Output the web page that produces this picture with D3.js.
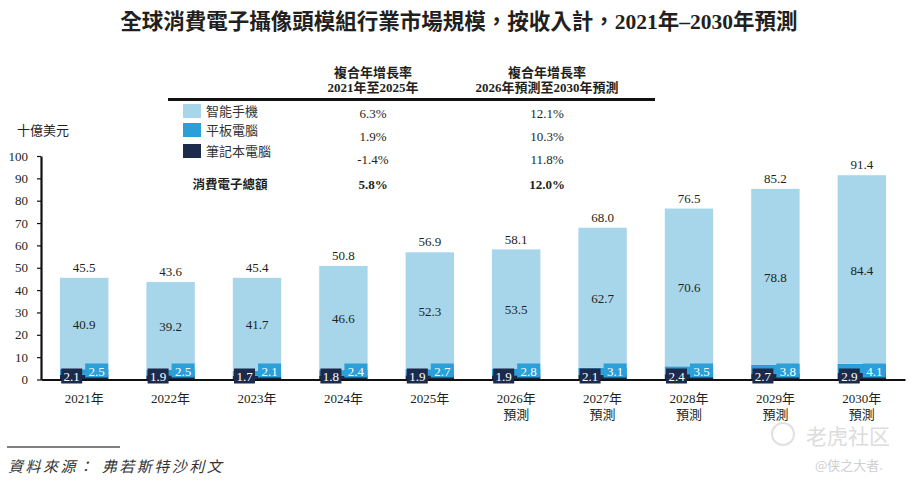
<!DOCTYPE html>
<html>
<head>
<meta charset="utf-8">
<script src="https://cdn.jsdelivr.net/npm/d3@7"></script>
<style>
    body { margin: 0; background: #fff; }
    svg text { font-family: "Liberation Serif", "Noto Sans CJK TC", serif; fill: #231f20; }
</style>
</head>
<body>
<div id="chart"></div>
<script>
/*
    Chart data
*/
var years = ["2021年", "2022年", "2023年", "2024年", "2025年", "2026年", "2027年", "2028年", "2029年", "2030年"];
var isForecast = [false, false, false, false, false, true, true, true, true, true];
var laptop = [2.1, 1.9, 1.7, 1.8, 1.9, 1.9, 2.1, 2.4, 2.7, 2.9];
var tablet = [2.5, 2.5, 2.1, 2.4, 2.7, 2.8, 3.1, 3.5, 3.8, 4.1];
var smartphone = [40.9, 39.2, 41.7, 46.6, 52.3, 53.5, 62.7, 70.6, 78.8, 84.4];
var totals = [45.5, 43.6, 45.4, 50.8, 56.9, 58.1, 68.0, 76.5, 85.2, 91.4];
var yTicks = [0, 10, 20, 30, 40, 50, 60, 70, 80, 90, 100];

var seriesNames = ["智能手機", "平板電腦", "筆記本電腦"];
var seriesColors = ["#a7d5ea", "#2b9fd8", "#1c2b4b"];
var cagr2125 = ["6.3%", "1.9%", "-1.4%"];
var cagr2630 = ["12.1%", "10.3%", "11.8%"];
var totalName = "消費電子總額";
var totalCagr = ["5.8%", "12.0%"];
var colHeads = [["複合年增長率", "2021年至2025年"], ["複合年增長率", "2026年預測至2030年預測"]];

var W = 915, H = 485;
var svg = d3.select("#chart").append("svg")
    .attr("width", W)
    .attr("height", H);

/*
    Title
*/
svg.append("text")
    .attr("x", 459).attr("y", 29)
    .attr("text-anchor", "middle")
    .style("font-size", "21.5px")
    .style("font-weight", "bold")
    .text("全球消費電子攝像頭模組行業市場規模，按收入計，2021年–2030年預測");

/*
    Scales
*/
var x = d3.scaleBand()
    .domain(years)
    .range([41, 905])
    .paddingInner(0.44)
    .paddingOuter(0.22);

var y = d3.scaleLinear()
    .domain([0, 100])
    .range([379.5, 156]);

/*
    Stack laptop -> tablet -> smartphone from the baseline up
*/
var rows = years.map(function (d, i) {
    return { year: d, laptop: laptop[i], tablet: tablet[i], smartphone: smartphone[i] };
});
var stack = d3.stack().keys(["laptop", "tablet", "smartphone"]);
var stacked = stack(rows);
var keyColor = { smartphone: seriesColors[0], tablet: seriesColors[1], laptop: seriesColors[2] };

svg.append("g")
    .selectAll("g")
    .data(stacked)
    .enter()
    .append("g")
    .attr("fill", function (s) { return keyColor[s.key]; })
    .selectAll("rect")
    .data(function (s) { return s; })
    .enter()
    .append("rect")
    .attr("x", function (d) { return x(d.data.year); })
    .attr("width", x.bandwidth())
    .attr("y", function (d) { return y(d[1]); })
    .attr("height", function (d) { return y(d[0]) - y(d[1]); });

/*
    Axes
*/
var yAxis = d3.axisLeft(y)
    .tickValues(yTicks)
    .tickSizeInner(4)
    .tickSizeOuter(0)
    .tickPadding(9);

var gy = svg.append("g")
    .attr("transform", "translate(41,0)")
    .call(yAxis);
gy.select(".domain").attr("stroke", "#111").attr("stroke-width", 2.2);
gy.selectAll(".tick line").attr("stroke", "#111").attr("stroke-width", 1.2);
gy.selectAll(".tick text")
    .style("font-size", "13px")
    .style("font-family", "Liberation Serif")
    .attr("fill", "#231f20");

var xAxis = d3.axisBottom(x).tickSize(0).tickSizeOuter(0);
var gx = svg.append("g")
    .attr("transform", "translate(0," + y(0) + ")")
    .call(xAxis);
gx.select(".domain").attr("stroke", "#111").attr("stroke-width", 2.2);
gx.selectAll(".tick text").remove();
gx.selectAll(".tick").each(function (d, i) {
    var t = d3.select(this).append("text")
        .attr("text-anchor", "middle")
        .style("font-size", "13px")
        .attr("fill", "#231f20");
    t.append("tspan").attr("x", 0).attr("y", 23).text(d);
    if (isForecast[i]) {
        t.append("tspan").attr("x", 0).attr("y", 39).text("預測");
    }
});

svg.append("text")
    .attr("x", 17).attr("y", 135)
    .style("font-size", "13px")
    .text("十億美元");

/*
    Value labels: totals above bars, smartphone inside
*/
svg.append("g")
    .selectAll("text")
    .data(years)
    .enter()
    .append("text")
    .attr("x", function (d) { return x(d) + x.bandwidth() / 2; })
    .attr("y", function (d, i) { return y(totals[i]) - 6; })
    .attr("text-anchor", "middle")
    .style("font-size", "13px")
    .text(function (d, i) { return totals[i].toFixed(1); });

svg.append("g")
    .selectAll("text")
    .data(stacked[2])
    .enter()
    .append("text")
    .attr("x", function (d) { return x(d.data.year) + x.bandwidth() / 2; })
    .attr("y", function (d) { return (y(d[0]) + y(d[1])) / 2 + 5; })
    .attr("text-anchor", "middle")
    .style("font-size", "13px")
    .text(function (d) { return d.data.smartphone.toFixed(1); });

/*
    Small boxed labels for laptop / tablet at the foot of each bar
*/
var foot = svg.append("g")
    .selectAll("g")
    .data(years)
    .enter()
    .append("g")
    .attr("transform", function (d) { return "translate(" + (x(d) + x.bandwidth() / 2) + "," + y(0) + ")"; });

foot.append("rect")
    .attr("x", -23).attr("y", -11)
    .attr("width", 21).attr("height", 15)
    .attr("fill", seriesColors[2]);
foot.append("text")
    .attr("x", -12.5).attr("y", 1.5)
    .attr("text-anchor", "middle")
    .style("font-size", "13px")
    .style("fill", "#fff")
    .text(function (d, i) { return laptop[i].toFixed(1); });

foot.append("rect")
    .attr("x", 1).attr("y", -16)
    .attr("width", 23).attr("height", 14)
    .attr("fill", seriesColors[1]);
foot.append("text")
    .attr("x", 12.5).attr("y", -4)
    .attr("text-anchor", "middle")
    .style("font-size", "13px")
    .style("fill", "#fff")
    .text(function (d, i) { return tablet[i].toFixed(1); });

/*
    Legend / CAGR table
*/
var table = svg.append("g");
var colX = [373, 547];

colHeads.forEach(function (h, c) {
    table.append("text")
        .attr("x", colX[c]).attr("y", 77)
        .attr("text-anchor", "middle")
        .style("font-size", "13px").style("font-weight", "bold")
        .text(h[0]);
    table.append("text")
        .attr("x", colX[c]).attr("y", 92)
        .attr("text-anchor", "middle")
        .style("font-size", "13px").style("font-weight", "bold")
        .text(h[1]);
});

table.append("line")
    .attr("x1", 168).attr("x2", 655)
    .attr("y1", 99.5).attr("y2", 99.5)
    .attr("stroke", "#111").attr("stroke-width", 3);

var rowY = [104, 123, 144];
var valY = [118, 141, 164];
seriesNames.forEach(function (name, i) {
    table.append("rect")
        .attr("x", 183).attr("y", rowY[i])
        .attr("width", 18).attr("height", 14)
        .attr("fill", seriesColors[i]);
    table.append("text")
        .attr("x", 206).attr("y", rowY[i] + 12)
        .style("font-size", "13px")
        .style("fill", "#333")
        .text(name);
    table.append("text")
        .attr("x", colX[0]).attr("y", valY[i])
        .attr("text-anchor", "middle")
        .style("font-size", "13px")
        .text(cagr2125[i]);
    table.append("text")
        .attr("x", colX[1]).attr("y", valY[i])
        .attr("text-anchor", "middle")
        .style("font-size", "13px")
        .text(cagr2630[i]);
});

table.append("text")
    .attr("x", 230).attr("y", 189)
    .attr("text-anchor", "middle")
    .style("font-size", "12.5px").style("font-weight", "bold")
    .text(totalName);
totalCagr.forEach(function (v, c) {
    table.append("text")
        .attr("x", colX[c]).attr("y", 189)
        .attr("text-anchor", "middle")
        .style("font-size", "13px").style("font-weight", "bold")
        .text(v);
});

/*
    Source note
*/
svg.append("line")
    .attr("x1", 7).attr("x2", 120)
    .attr("y1", 447).attr("y2", 447)
    .attr("stroke", "#555").attr("stroke-width", 1.5);
svg.append("text")
    .attr("x", 8).attr("y", 472)
    .style("font-size", "15px")
    .style("font-style", "italic")
    .style("letter-spacing", "2.5px")
    .style("fill", "#333")
    .text("資料來源：  弗若斯特沙利文");

/*
    Watermark
*/
svg.append("circle")
    .attr("cx", 783).attr("cy", 434).attr("r", 11)
    .attr("fill", "none").attr("stroke", "#e0e0e0").attr("stroke-width", 2);
svg.append("text")
    .attr("x", 806).attr("y", 444)
    .style("font-family", "Noto Sans CJK SC")
    .style("font-size", "21px")
    .style("fill", "#dcdcdc")
    .text("老虎社区");
svg.append("text")
    .attr("x", 815).attr("y", 470)
    .style("font-family", "Noto Sans CJK SC")
    .style("font-size", "13px")
    .style("fill", "#cfcfcf")
    .text("@侠之大者.");
</script>
</body>
</html>
